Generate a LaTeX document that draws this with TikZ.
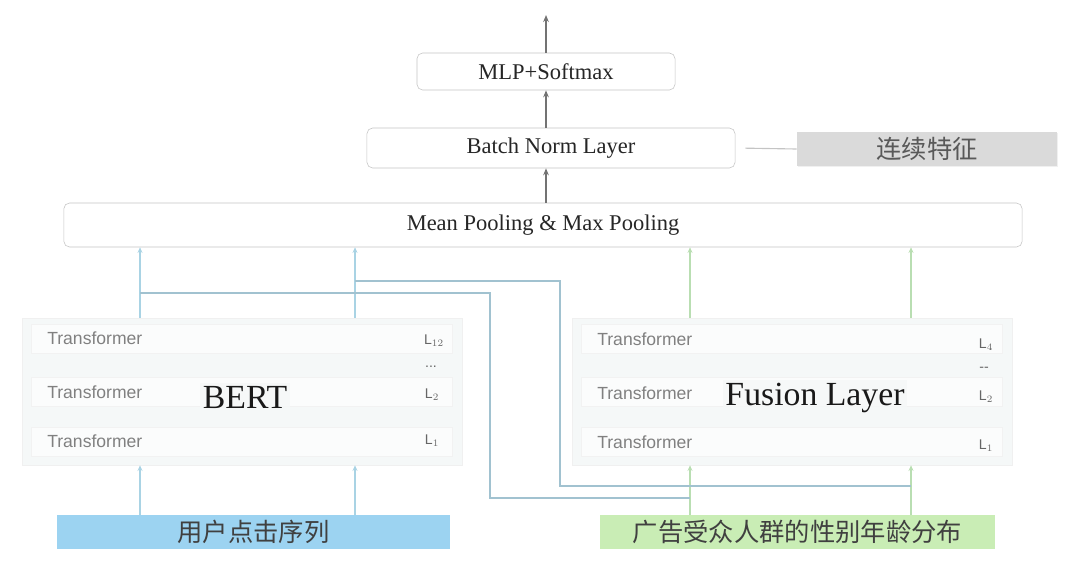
\documentclass[tikz,border=0pt]{standalone}
\usepackage{fontspec}
\setmainfont{Liberation Serif}
\newfontfamily\cjk{Noto Sans CJK SC}
\newfontfamily\helv{Liberation Sans}
\usetikzlibrary{arrows.meta,shadows}
\definecolor{boxline}{HTML}{C4C4C4}
\definecolor{bluelink}{HTML}{A9D3E4}
\definecolor{greenlink}{HTML}{B9DEB2}
\definecolor{userfill}{HTML}{9CD3F1}
\definecolor{adfill}{HTML}{C9EDB5}
\definecolor{featfill}{HTML}{DADADA}
\definecolor{stackfill}{HTML}{F5F8F8}

\begin{document}
\begin{tikzpicture}[
    x=0.025cm, y=-0.025cm,
    box/.style={rectangle, draw=boxline, rounded corners=4pt, fill=white, inner sep=0pt, text=black!85, font=\fontsize{16}{18}\selectfont},
    stack/.style={rectangle, draw=black!6, fill=stackfill, minimum width=11cm, minimum height=3.675cm, drop shadow={opacity=0.08, shadow xshift=1pt, shadow yshift=-1pt}},
    layer/.style={rectangle, draw=black!5, fill=white, fill opacity=0.6, minimum width=10.525cm, minimum height=0.72cm},
    tlabel/.style={anchor=west, inner sep=0pt, text=black!50, font=\helv\fontsize{12.5}{14}\selectfont},
    llabel/.style={inner sep=0pt, text=black!60, font=\helv\fontsize{10}{12}\selectfont},
    title/.style={inner sep=2pt, text=black!90, font=\fontsize{24}{28}\selectfont},
    input/.style={rectangle, inner sep=0pt, minimum height=0.85cm, text=black!75, font=\cjk\fontsize{18}{20}\selectfont},
    mainarrow/.style={-{Stealth[length=5pt, width=4pt]}, draw=black!55, line width=0.8pt},
    bluearrow/.style={-{Stealth[length=4pt, width=3.5pt]}, draw=bluelink, line width=0.8pt},
    greenarrow/.style={-{Stealth[length=4pt, width=3.5pt]}, draw=greenlink, line width=0.8pt},
    route/.style={draw=bluelink!80!gray, line width=0.8pt},
]
    \useasboundingbox (0,0) rectangle (1080,580);

    % Top of the model
    \node[box, minimum width=6.45cm, minimum height=0.925cm] (mlp) at (546,71.5) {MLP+Softmax};
    \node[box, minimum width=9.2cm, minimum height=1cm] (batch) at (551,148) {Batch Norm Layer};
    \node[box, minimum width=23.95cm, minimum height=1.1cm] (pool) at (543,225) {Mean Pooling \& Max Pooling};
    \node[input, fill=featfill, minimum width=6.5cm, text=black!65, drop shadow={opacity=0.12, shadow xshift=1pt, shadow yshift=-1pt}] (feat) at (927,149) {连续特征};
    \coordinate (out) at (546,15);

    % BERT stack
    \node[stack] (bert) at (242,391.5) {};
    \node[layer] (bl3) at (242,338.5) {};
    \node[layer] (bl2) at (242,392) {};
    \node[layer] (bl1) at (242,442) {};
    \node[tlabel] (bt3) at (47,338) {Transformer};
    \node[tlabel] (bt2) at (47,392) {Transformer};
    \node[tlabel] (bt1) at (47,441) {Transformer};
    \node[llabel] (bn3) at (434,341) {L$_{12}$};
    \node[llabel] (bnd) at (431,367) {...};
    \node[llabel] (bn2) at (432,395) {L$_2$};
    \node[llabel] (bn1) at (432,441) {L$_1$};
    \node[title, fill=stackfill, fill opacity=0.8, text opacity=1] (berttitle) at (245,397) {BERT};

    % Fusion stack
    \node[stack] (fusion) at (792,391.5) {};
    \node[layer] (fl3) at (792,338.5) {};
    \node[layer] (fl2) at (792,392) {};
    \node[layer] (fl1) at (792,442) {};
    \node[tlabel] (ft3) at (597,339) {Transformer};
    \node[tlabel] (ft2) at (597,393) {Transformer};
    \node[tlabel] (ft1) at (597,442) {Transformer};
    \node[llabel] (fn3) at (986,345) {L$_4$};
    \node[llabel] (fnd) at (984,369) {--};
    \node[llabel] (fn2) at (986,397) {L$_2$};
    \node[llabel] (fn1) at (986,446) {L$_1$};
    \node[title, fill=stackfill, fill opacity=0.8, text opacity=1] (fusiontitle) at (815,398) {Fusion Layer};

    % Inputs
    \node[input, fill=userfill, minimum width=9.825cm] (user) at (253.5,532) {用户点击序列};
    \node[input, fill=adfill, minimum width=9.875cm] (ad) at (797.5,532) {广告受众人群的性别年龄分布};

    % Columns of the connectors
    \coordinate (xb1) at (140,0);
    \coordinate (xb2) at (355,0);
    \coordinate (xf1) at (690,0);
    \coordinate (xf2) at (911,0);
    \coordinate (m1) at (140,293);
    \coordinate (m2) at (355,281);
    \coordinate (j1) at (690,498);
    \coordinate (j2) at (911,486);

    % Main flow
    \draw[mainarrow] (pool.north -| mlp) -- (batch.south -| mlp);
    \draw[mainarrow] (batch.north -| mlp) -- (mlp.south);
    \draw[mainarrow] (mlp.north) -- (out);
    \draw[draw=boxline, line width=0.8pt, shorten >=0.25cm] (feat.west) -- (batch.east);

    % BERT side
    \draw[bluearrow] (user.north -| xb1) -- (bert.south -| xb1);
    \draw[bluearrow] (user.north -| xb2) -- (bert.south -| xb2);
    \draw[bluearrow] (bert.north -| xb1) -- (pool.south -| xb1);
    \draw[bluearrow] (bert.north -| xb2) -- (pool.south -| xb2);

    % Fusion side
    \draw[greenarrow] (ad.north -| xf1) -- (fusion.south -| xf1);
    \draw[greenarrow] (ad.north -| xf2) -- (fusion.south -| xf2);
    \draw[greenarrow] (fusion.north -| xf1) -- (pool.south -| xf1);
    \draw[greenarrow] (fusion.north -| xf2) -- (pool.south -| xf2);

    % Ad features into the BERT outputs
    \draw[route] (j1) -| (490,293) -- (m1);
    \draw[route] (j2) -| (560,281) -- (m2);
\end{tikzpicture}
\end{document}
